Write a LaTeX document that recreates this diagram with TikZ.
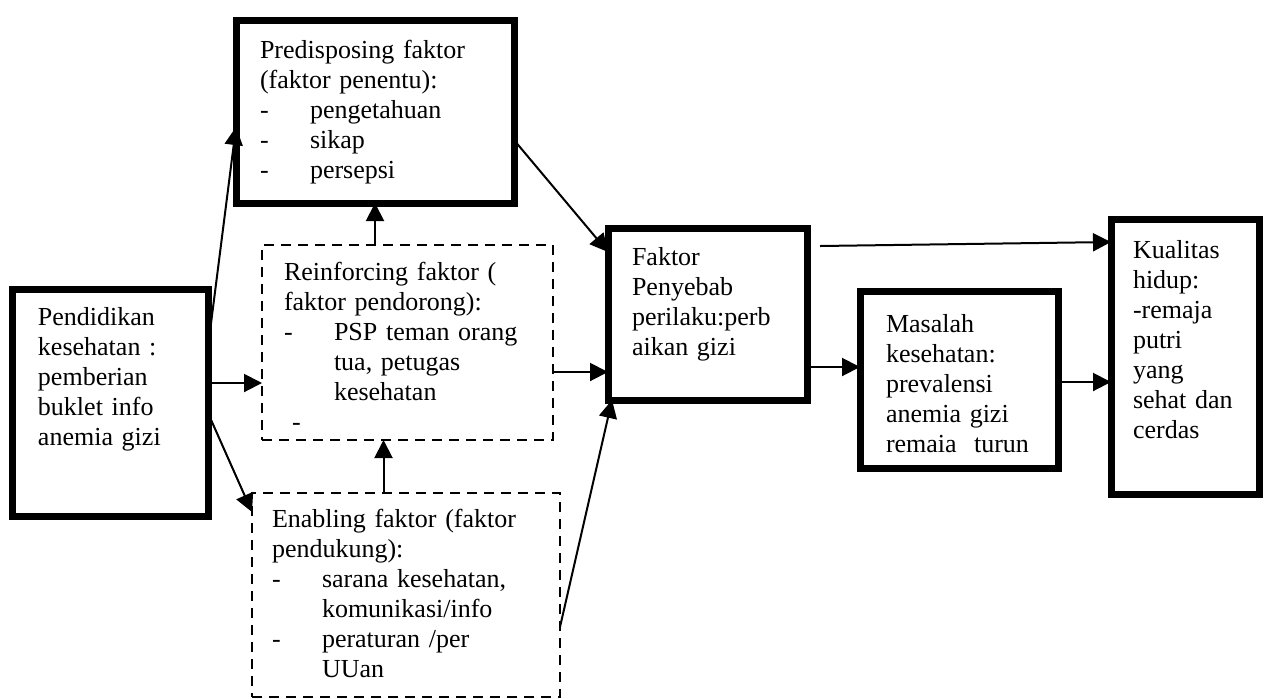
\documentclass[tikz,border=0pt]{standalone}
\usepackage{fontspec}
\setmainfont{Liberation Serif}
\usetikzlibrary{arrows.meta}
\newcommand{\itm}[1]{\makebox[25pt][l]{-}#1}
\newcommand{\ind}{\hspace*{25pt}}

\begin{document}
\begin{tikzpicture}[x=0.5pt,y=-0.5pt,font=\fontsize{13pt}{15pt}\selectfont,
  tebal/.style={draw,line width=3.5pt,anchor=north west,align=left,inner ysep=0pt,outer sep=0pt},
  putus/.style={draw,line width=1pt,dash pattern=on 5pt off 3.5pt,anchor=north west,align=left,inner ysep=0pt,outer sep=0pt},
  panah/.style={-{Triangle[length=9pt,width=9pt]},line width=1pt}]

\useasboundingbox (0,0) rectangle (1264,698);

\node[tebal, text width=72pt, inner xsep=13pt, text height=18pt, text depth=95.5pt] (pend) at (12,289)
  {Pendidikan\\kesehatan :\\pemberian\\buklet info\\anemia gizi};
\node[tebal, text width=115pt, inner xsep=12pt, text height=19pt, text depth=72.5pt] (pred) at (236,20)
  {Predisposing faktor\\(faktor penentu):\\\itm{pengetahuan}\\\itm{sikap}\\\itm{persepsi}};
\node[putus, text width=123.5pt, inner xsep=11pt, text height=17.5pt, text depth=80pt] (rein) at (262,245)
  {Reinforcing faktor (\\faktor pendorong):\\\itm{PSP teman orang}\\\ind tua, petugas\\\ind kesehatan\\\hspace*{4pt}-};
\node[putus, text width=134pt, inner xsep=10pt, text height=17pt, text depth=85pt] (enab) at (252,493)
  {Enabling faktor (faktor\\pendukung):\\\itm{sarana kesehatan,}\\\ind komunikasi/info\\\itm{peraturan /per}\\\ind UUan};
\node[tebal, text width=75.5pt, inner xsep=12pt, text height=18.5pt, text depth=67.5pt] (fakt) at (608,228)
  {Faktor\\Penyebab\\perilaku:perb\\aikan gizi};
\node[tebal, text width=73pt, inner xsep=13pt, text height=20.5pt, text depth=68pt] (masa) at (860,291)
  {Masalah\\kesehatan:\\prevalensi\\anemia gizi\\remaia\ \ turun};
\node[tebal, text width=52pt, inner xsep=11pt, text height=19.5pt, text depth=118pt] (kual) at (1111,219)
  {Kualitas\\hidup:\\-remaja\\putri\\yang\\sehat dan\\cerdas};

% panah dari pendidikan
\draw[panah] ([yshift=-29pt]pend.north east) -- ([yshift=38pt]pred.south west);
\draw[panah] ([yshift=-47pt]pend.north east) coordinate (a1) -- (a1 -| rein.west);
\draw[panah] ([yshift=-62pt]pend.north east) -- ([yshift=-9.5pt]enab.north west);

% panah antar faktor
\draw[panah] (pred.south |- rein.north) -- (pred.south);
\coordinate (e1) at ([xshift=-12pt]rein.south);
\draw[panah] (e1 |- enab.north) -- (e1);

% panah ke faktor penyebab
\draw[panah] ([yshift=-60pt]pred.north east) -- ([yshift=-12pt]fakt.north west);
\draw[panah] ([yshift=-63.5pt]rein.north east) coordinate (a2) -- (a2 -| fakt.west);
\draw[panah] ([yshift=-67pt]enab.north east) -- ([xshift=2pt]fakt.south west);

% panah ke kanan
\draw[panah] ([yshift=-69.5pt]fakt.north east) coordinate (a3) -- (a3 -| masa.west);
\coordinate (t0) at (820,246);
\draw[panah] (t0) -- ([yshift=-11.5pt]kual.north west);
\draw[panah] ([yshift=-45.5pt]masa.north east) coordinate (a4) -- (a4 -| kual.west);

\end{tikzpicture}
\end{document}
